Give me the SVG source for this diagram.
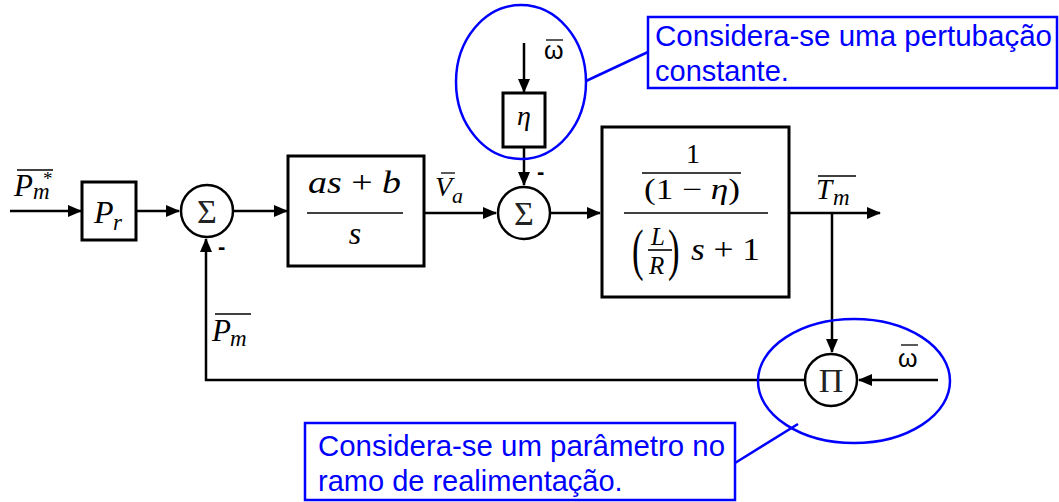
<svg xmlns="http://www.w3.org/2000/svg" width="1059" height="502" viewBox="0 0 1059 502">
<style>
.blk{fill:#fff;stroke:#000;stroke-width:3}
.sum{fill:#fff;stroke:#000;stroke-width:2.5}
.ln{fill:none;stroke:#000;stroke-width:2.5}
.fl{stroke:#000;stroke-width:1.6}
.m{font-family:"Liberation Serif",serif;font-style:italic;fill:#000}
.mu{font-family:"Liberation Serif",serif;fill:#000}
.op{font-family:"Liberation Serif",serif;fill:#222;font-size:34px}
.ov{stroke:#000;stroke-width:1.3}
.blue{fill:none;stroke:#0000ff;stroke-width:2.5}
.note{font-family:"Liberation Sans",Arial,sans-serif;font-size:29px;fill:#0000ff}
.minus{font-family:"Liberation Sans",Arial,sans-serif;font-weight:bold;font-size:22px;fill:#000}
</style>
<defs>
<marker id="ah" markerWidth="14" markerHeight="12" refX="13" refY="6" orient="auto" markerUnits="userSpaceOnUse">
<path d="M0,0 L14,6 L0,12 Z" fill="#000"/>
</marker>
</defs>
<rect width="1059" height="502" fill="#fff"/>

<g id="connectors">
<line class="ln" x1="10" y1="211" x2="81" y2="211" marker-end="url(#ah)"/>
<line class="ln" x1="137" y1="211" x2="179" y2="211" marker-end="url(#ah)"/>
<line class="ln" x1="234" y1="211" x2="287" y2="211" marker-end="url(#ah)"/>
<line class="ln" x1="424" y1="213" x2="496" y2="213" marker-end="url(#ah)"/>
<line class="ln" x1="551" y1="213" x2="600" y2="213" marker-end="url(#ah)"/>
<line class="ln" x1="524" y1="43" x2="524" y2="92" marker-end="url(#ah)"/>
<line class="ln" x1="524" y1="147" x2="524" y2="185" marker-end="url(#ah)"/>
<line class="ln" x1="789" y1="213" x2="880" y2="213" marker-end="url(#ah)"/>
<line class="ln" x1="832" y1="213" x2="832" y2="352" marker-end="url(#ah)"/>
<line class="ln" x1="938" y1="380" x2="859" y2="380" marker-end="url(#ah)"/>
<polyline class="ln" points="804,380 206,380 206,239" marker-end="url(#ah)"/>
</g>

<g id="input-label">
<line class="ov" x1="17" y1="170" x2="53" y2="170"/>
<text class="m" x="14" y="196" font-size="31">P</text>
<text class="m" x="33" y="199" font-size="23">m</text>
<text class="mu" x="43" y="185" font-size="19">*</text>
</g>

<g id="Pr">
<rect class="blk" x="82" y="182" width="54" height="58"/>
<text class="m" x="94" y="223" font-size="32">P</text>
<text class="m" x="113" y="230" font-size="23">r</text>
</g>

<g id="sum1">
<circle class="sum" cx="207" cy="211" r="26"/>
<text class="op" x="207" y="223" text-anchor="middle">Σ</text>
<text class="minus" x="218" y="254">-</text>
</g>

<g id="controller">
<rect class="blk" x="288" y="156" width="136" height="110"/>
<text class="m" x="308" y="193" font-size="31" textLength="93" lengthAdjust="spacingAndGlyphs">as <tspan font-style="normal">+</tspan> b</text>
<line class="fl" x1="307" y1="213" x2="403" y2="213"/>
<text class="m" x="355" y="244" font-size="32" text-anchor="middle">s</text>
</g>

<g id="Va-label">
<line class="ov" x1="441" y1="173" x2="455" y2="173"/>
<text class="m" x="435" y="196" font-size="28">V</text>
<text class="m" x="452" y="203" font-size="22">a</text>
</g>

<g id="sum2">
<circle class="sum" cx="524" cy="213" r="26"/>
<text class="op" x="524" y="225" text-anchor="middle">Σ</text>
<text class="minus" x="537" y="179">-</text>
</g>

<g id="eta">
<rect class="blk" x="503" y="93" width="42" height="54"/>
<text class="m" x="524" y="125" font-size="28" text-anchor="middle">η</text>
</g>

<g id="omega-top">
<line class="ov" x1="546" y1="40" x2="563" y2="40"/>
<text x="544" y="59" font-family="'Liberation Sans',Arial,sans-serif" font-size="25" fill="#000">ω</text>
</g>

<g id="plant">
<rect class="blk" x="602" y="127" width="187" height="170"/>
<text class="mu" x="693" y="163" font-size="28" text-anchor="middle">1</text>
<line class="fl" x1="642" y1="173" x2="741" y2="173"/>
<text class="mu" x="644" y="199" font-size="29" textLength="96" lengthAdjust="spacingAndGlyphs">(1 − <tspan font-style="italic">η</tspan>)</text>
<line class="fl" x1="624" y1="213" x2="768" y2="213"/>
<text class="mu" x="632" y="269" font-size="58" transform="translate(632 262) scale(0.6 1) translate(-632 -262)">(</text>
<text class="m" x="651" y="245" font-size="25">L</text>
<line class="fl" x1="648" y1="250" x2="672" y2="250"/>
<text class="m" x="649" y="274" font-size="25">R</text>
<text class="mu" x="668" y="269" font-size="58" transform="translate(668 262) scale(0.6 1) translate(-668 -262)">)</text>
<text class="m" x="691" y="260" font-size="31" textLength="69" lengthAdjust="spacingAndGlyphs">s <tspan font-style="normal">+ 1</tspan></text>
</g>

<g id="Tm-label">
<line class="ov" x1="818" y1="176" x2="856" y2="176"/>
<text class="m" x="816" y="199" font-size="29">T</text>
<text class="m" x="833" y="205" font-size="23">m</text>
</g>

<g id="product">
<circle class="sum" cx="831" cy="380" r="26"/>
<text class="op" x="831" y="392" text-anchor="middle">Π</text>
</g>

<g id="omega-right">
<line class="ov" x1="901" y1="345" x2="918" y2="345"/>
<text x="898" y="367" font-family="'Liberation Sans',Arial,sans-serif" font-size="25" fill="#000">ω</text>
</g>

<g id="Pm-label">
<line class="ov" x1="215" y1="314" x2="251" y2="314"/>
<text class="m" x="212" y="341" font-size="31">P</text>
<text class="m" x="230" y="346" font-size="23">m</text>
</g>

<g id="note-top">
<ellipse class="blue" cx="521" cy="82" rx="65" ry="77"/>
<line class="blue" x1="586" y1="81" x2="648" y2="52"/>
<rect class="blue" x="648" y="17" width="409" height="71" fill="#fff"/>
<text class="note" x="655" y="46" textLength="397" lengthAdjust="spacingAndGlyphs">Considera-se uma pertubação</text>
<text class="note" x="655" y="81">constante.</text>
</g>

<g id="note-bottom">
<ellipse class="blue" cx="854" cy="381" rx="96" ry="62"/>
<line class="blue" x1="798" y1="424" x2="735" y2="463"/>
<rect class="blue" x="305" y="423" width="430" height="77" fill="#fff"/>
<text class="note" x="318" y="456" textLength="407" lengthAdjust="spacingAndGlyphs">Considera-se um parâmetro no</text>
<text class="note" x="318" y="491">ramo de realimentação.</text>
</g>
</svg>
